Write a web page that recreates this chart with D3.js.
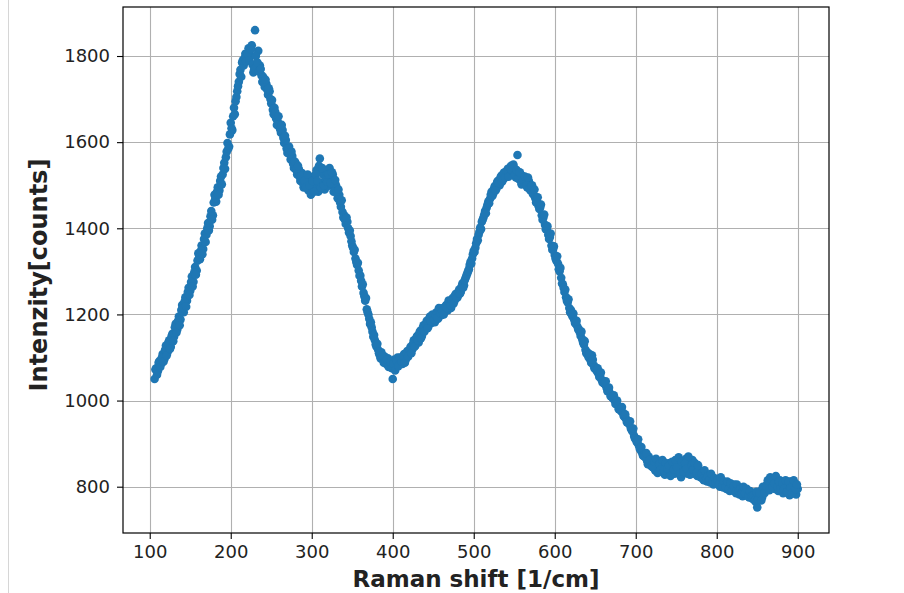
<!DOCTYPE html>
<html>
<head>
<meta charset="utf-8">
<script src="https://cdn.jsdelivr.net/npm/d3@7"></script>
<style>
  html, body { margin: 0; padding: 0; background: #fff; }
  svg { display: block; }
</style>
</head>
<body>
<svg id="chart" width="904" height="593"></svg>
<script>
// ---- data ----
// samples at even Raman shifts
const shiftA = [
  106,108,110,112,114,116,118,
  120,122,124,126,128,130,132,134,136,138,140,142,144,146,148,150,152,154,156,158,
  160,162,164,166,168,170,172,174,176,178,180,182,184,186,188,190,192,194,196,198,
  200,202,204,206,208,210,212,214,216,218,220,222,224,226,228,230,232,234,236,238,
  240,242,244,246,248,250,252,254,256,258,260,262,264,266,268,270,272,274,276,278,
  280,282,284,286,288,290,292,294,296,298,300,302,304,306,308,310,312,314,316,318,
  320,322,324,326,328,330,332,334,336,338,340,342,344,346,348,350,352,354,356,358,
  360,362,364,366,368,370,372,374,376,378,380,382,384,386,388,390,392,394,396,398,
  400,402,404,406,408,410,412,414,416,418,420,422,424,426,428,430,432,434,436,438,
  440,442,444,446,448,450,452,454,456,458,460,462,464,466,468,470,472,474,476,478,
  480,482,484,486,488,490,492,494,496,498,500,502,504,506,508,510,512,514,516,518,
  520,522,524,526,528,530,532,534,536,538,540,542,544,546,548,550,552,554,556,558,
  560,562,564,566,568,570,572,574,576,578,580,582,584,586,588,590,592,594,596,598,
  600,602,604,606,608,610,612,614,616,618,620,622,624,626,628,630,632,634,636,638,
  640,642,644,646,648,650,652,654,656,658,660,662,664,666,668,670,672,674,676,678,
  680,682,684,686,688,690,692,694,696,698,700,702,704,706,708,710,712,714,716,718,
  720,722,724,726,728,730,732,734,736,738,740,742,744,746,748,750,752,754,756,758,
  760,762,764,766,768,770,772,774,776,778,780,782,784,786,788,790,792,794,796,798,
  800,802,804,806,808,810,812,814,816,818,820,822,824,826,828,830,832,834,836,838,
  840,842,844,846,848,850,852,854,856,858,860,862,864,866,868,870,872,874,876,878,
  880,882,884,886,888,890,892,894,896,898,900
];
const countsA = [
  1050,1075,1068,1092,1085,1108,1096,
  1128,1112,1140,1125,1155, 1148,1178,1165,1195,1188, 1222,1205,1240,1232,1262, 1255,1288,1276,1310,1302,
  1342,1328,1360,1352,1388, 1385,1412,1405,1440,1430, 1478,1462,1495,1488,1520, 1525,1552,1565,1598,1590,
  1645,1628,1680,1695,1718, 1740,1768,1785,1778,1805, 1795,1818,1800,1825,1762, 1860,1770,1812,1778,1755,
  1752,1728,1735,1710,1718, 1690,1675,1680,1655,1648, 1640,1622,1628,1598,1605, 1575,1590,1560,1568,1540,
  1552,1525,1538,1510,1528, 1495,1522,1505,1488,1515, 1492,1520,1500,1535,1485, 1562,1505,1525,1490,1530,
  1498,1540,1515,1525,1495, 1500,1470,1478,1450,1438, 1430,1410,1415,1390,1382, 1360,1345,1330,1315,1302,
  1290,1265,1250,1232,1212, 1200,1178,1170,1148,1140, 1125,1118,1105,1112,1095, 1102,1085,1098,1080,1092,
  1050,1095,1082,1100,1088, 1098,1085,1108,1095,1115, 1108,1125,1118,1140,1128, 1150,1135,1162,1150,1175,
  1165,1185,1172,1195,1180, 1195,1182,1205,1190,1208, 1198,1215,1205,1222,1210, 1228,1215,1238,1230,1248,
  1240,1258,1252,1272,1268, 1285,1295,1305,1322,1330, 1348,1355,1375,1385,1402, 1415,1425,1440,1448,1462,
  1468,1485,1480,1498,1492, 1510,1500,1522,1512,1530, 1520,1538,1525,1545,1528, 1540,1518,1570,1525,1510,
  1522,1505,1515,1495,1510, 1488,1500,1478,1470,1465, 1452,1448,1430,1425,1408, 1398,1385,1380,1360,1352,
  1338,1325,1318,1300,1285, 1270,1252,1240,1228,1215, 1210,1195,1188,1178,1172, 1165,1150,1142,1130,1118,
  1112,1100,1095,1105,1082, 1078,1068,1062,1058,1048, 1045,1038,1030,1025,1018, 1012,1005,1000,995,988,
  982,975,972,962,958, 950,945,935,928,918, 912,902,895,885,878, 875,868,860,870,855,
  850,862,838,855,842, 858,835,850,828,848, 838,855,832,848,830, 862,835,850,822,845,
  838,865,830,852,838, 862,830,845,825,840, 822,835,815,830,812, 825,810,822,805,815,
  808,818,800,812,798, 808,795,805,790,802, 792,805,785,798,782, 795,778,792,780,790,
  775,788,772,785,765, 752,780,790,775,795, 790,805,798,822,810, 818,795,808,790,815,
  798,785,810,792,805, 780,812,790,808,782, 795
];
// samples at odd Raman shifts
const shiftB = [
  107,109,111,113,115,117,119,
  121,123,125,127,129,131,133,135,137,139,141,143,145,147,149,151,153,155,157,159,
  161,163,165,167,169,171,173,175,177,179,181,183,185,187,189,191,193,195,197,199,
  201,203,205,207,209,211,213,215,217,219,221,223,225,227,229,231,233,235,237,239,
  241,243,245,247,249,251,253,255,257,259,261,263,265,267,269,271,273,275,277,279,
  281,283,285,287,289,291,293,295,297,299,301,303,305,307,309,311,313,315,317,319,
  321,323,325,327,329,331,333,335,337,339,341,343,345,347,349,351,353,355,357,359,
  361,363,365,367,369,371,373,375,377,379,381,383,385,387,389,391,393,395,397,399,
  401,403,405,407,409,411,413,415,417,419,421,423,425,427,429,431,433,435,437,439,
  441,443,445,447,449,451,453,455,457,459,461,463,465,467,469,471,473,475,477,479,
  481,483,485,487,489,491,493,495,497,499,501,503,505,507,509,511,513,515,517,519,
  521,523,525,527,529,531,533,535,537,539,541,543,545,547,549,551,553,555,557,559,
  561,563,565,567,569,571,573,575,577,579,581,583,585,587,589,591,593,595,597,599,
  601,603,605,607,609,611,613,615,617,619,621,623,625,627,629,631,633,635,637,639,
  641,643,645,647,649,651,653,655,657,659,661,663,665,667,669,671,673,675,677,679,
  681,683,685,687,689,691,693,695,697,699,701,703,705,707,709,711,713,715,717,719,
  721,723,725,727,729,731,733,735,737,739,741,743,745,747,749,751,753,755,757,759,
  761,763,765,767,769,771,773,775,777,779,781,783,785,787,789,791,793,795,797,799,
  801,803,805,807,809,811,813,815,817,819,821,823,825,827,829,831,833,835,837,839,
  841,843,845,847,849,851,853,855,857,859,861,863,865,867,869,871,873,875,877,879,
  881,883,885,887,889,891,893,895,897,899
];
const countsB = [
  1072,1060,1088,1078,1100,1090,1118,
  1105,1135,1120,1150,1138, 1170,1158,1185,1175,1210, 1215,1230,1218,1252,1245, 1275,1265,1298,1292,1325,
  1332,1348,1340,1375,1368, 1400,1395,1428,1420,1460, 1470,1485,1478,1510,1502, 1540,1538,1578,1585,1618,
  1632,1660,1665,1705,1730, 1758,1752,1790,1795,1788, 1805,1790,1815,1780,1770, 1800,1785,1765,1770,1740,
  1738,1745,1722,1725,1700, 1698,1665,1670,1640,1660, 1630,1640,1610,1615,1585, 1585,1572,1578,1550,1555,
  1535,1545,1520,1522,1505, 1510,1495,1525,1500,1478, 1510,1485,1525,1510,1545, 1495,1540,1500,1515,1508,
  1525,1505,1530,1485,1512, 1485,1490,1460,1465,1425, 1420,1425,1400,1395,1370, 1355,1350,1322,1320,1290,
  1278,1270,1242,1238,1205, 1190,1182,1160,1152,1130, 1132,1110,1098,1105,1088, 1092,1095,1078,1090,1075,
  1085,1070,1092,1080,1100, 1090,1102,1088,1110,1102, 1118,1110,1132,1125,1145, 1140,1158,1145,1168,1160,
  1178,1168,1190,1185,1200, 1188,1198,1192,1215,1202, 1208,1200,1218,1215,1232, 1222,1232,1225,1245,1238,
  1250,1248,1265,1262,1280, 1290,1300,1315,1318,1340, 1345,1365,1372,1392,1398, 1420,1432,1435,1455,1458,
  1478,1475,1492,1488,1508, 1505,1518,1508,1528,1518, 1532,1520,1540,1535,1548, 1525,1535,1515,1530,1502,
  1512,1520,1500,1518,1492, 1498,1480,1490,1460,1472, 1445,1455,1420,1432,1398, 1405,1375,1388,1350,1358,
  1330,1335,1305,1308,1272, 1262,1258,1232,1235,1205, 1200,1202,1180,1185,1165, 1158,1160,1135,1138,1110,
  1105,1108,1088,1095,1075, 1072,1075,1055,1065,1042, 1040,1045,1022,1030,1010, 1008,1012,992,1000,980,
  978,985,965,968,950, 948,952,932,935,912, 905,910,888,892,872, 870,878,852,862,848,
  845,858,865,832,852, 840,862,838,855,842, 850,825,858,840,862, 845,868,830,858,835,
  855,842,870,828,850, 840,855,832,850,828, 830,818,838,820,825, 815,830,812,820,808,
  815,805,822,802,812, 800,812,795,808,792, 800,788,805,790,795, 785,800,785,795,778,
  790,778,780,768,788, 770,785,768,800,785, 802,815,792,818,800, 808,825,800,812,795,
  808,795,815,788,812, 798,785,815,795,805
];
const xTicks = [100, 200, 300, 400, 500, 600, 700, 800, 900];
const yTicks = [800, 1000, 1200, 1400, 1600, 1800];
const xLabel = "Raman shift [1/cm]";
const yLabel = "Intenzity[counts]";

// ---- layout ----
const plot = { left: 123, right: 829, top: 7, bottom: 533 };
const svg = d3.select("#chart");

// faint border line at left of the picture
svg.append("line")
  .attr("x1", 8.5).attr("x2", 8.5).attr("y1", 0).attr("y2", 593)
  .attr("stroke", "#d6d6d6").attr("stroke-width", 1);

const x = d3.scaleLinear().domain([67, 938.6]).range([plot.left, plot.right]);
const y = d3.scaleLinear().domain([692.5, 1913.8]).range([plot.bottom, plot.top]);

const data = shiftA.map((s, i) => ({ s, c: countsA[i] }))
  .concat(shiftB.map((s, i) => ({ s, c: countsB[i] })));

// grid
const grid = svg.append("g");
grid.selectAll("line.gx").data(xTicks).enter().append("line")
  .attr("x1", d => Math.round(x(d)) + 0.5).attr("x2", d => Math.round(x(d)) + 0.5)
  .attr("y1", plot.top).attr("y2", plot.bottom)
  .attr("stroke", "#b0b0b0").attr("stroke-width", 1.1);
grid.selectAll("line.gy").data(yTicks).enter().append("line")
  .attr("y1", d => Math.round(y(d)) + 0.5).attr("y2", d => Math.round(y(d)) + 0.5)
  .attr("x1", plot.left).attr("x2", plot.right)
  .attr("stroke", "#b0b0b0").attr("stroke-width", 1.1);

// points
svg.append("g").selectAll("circle").data(data).enter().append("circle")
  .attr("cx", d => x(d.s)).attr("cy", d => y(d.c))
  .attr("r", 4.3).attr("fill", "#1f77b4");

// axes
const xAxis = d3.axisBottom(x).tickValues(xTicks).tickSize(6).tickPadding(6).tickFormat(d3.format("d"));
const yAxis = d3.axisLeft(y).tickValues(yTicks).tickSize(6).tickPadding(7).tickFormat(d3.format("d"));

const gx = svg.append("g").attr("transform", `translate(0,${plot.bottom})`).call(xAxis);
const gy = svg.append("g").attr("transform", `translate(${plot.left},0)`).call(yAxis);
[gx, gy].forEach(g => {
  g.select(".domain").remove();
  g.selectAll(".tick line").attr("stroke", "#000").attr("stroke-width", 1.1);
  g.selectAll(".tick text").attr("fill", "#222")
    .style("font-family", "DejaVu Sans").style("font-size", "18px");
});

// frame
svg.append("rect")
  .attr("x", plot.left).attr("y", plot.top)
  .attr("width", plot.right - plot.left).attr("height", plot.bottom - plot.top)
  .attr("fill", "none").attr("stroke", "#000").attr("stroke-width", 1.2);

// labels
svg.append("text")
  .attr("x", (plot.left + plot.right) / 2).attr("y", 587)
  .attr("text-anchor", "middle")
  .style("font-family", "DejaVu Sans").style("font-weight", "bold").style("font-size", "23px")
  .attr("fill", "#222").text(xLabel);

svg.append("text")
  .attr("transform", `translate(47,${(plot.top + plot.bottom) / 2 + 5}) rotate(-90)`)
  .attr("text-anchor", "middle")
  .style("font-family", "DejaVu Sans").style("font-weight", "bold").style("font-size", "24px")
  .attr("fill", "#222").text(yLabel);
</script>
</body>
</html>
